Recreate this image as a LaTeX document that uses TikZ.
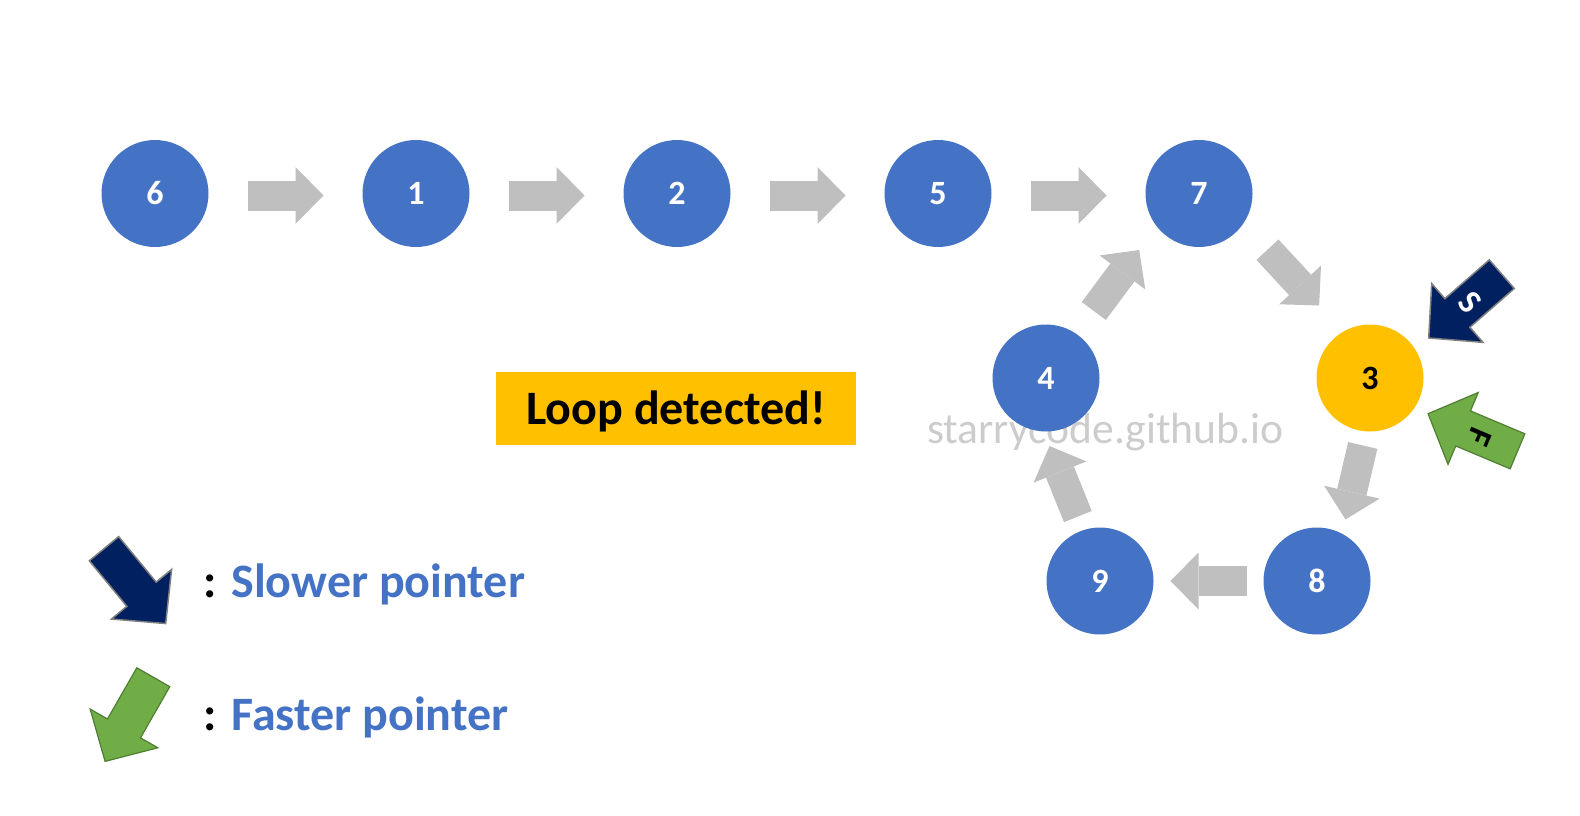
\documentclass[tikz,border=0pt]{standalone}
\usepackage{fontspec}
\setmainfont{Carlito}
\usetikzlibrary{arrows.meta,calc}

\definecolor{nodeblue}{HTML}{4472C4}
\definecolor{loopyellow}{HTML}{FFC000}
\definecolor{linkgray}{HTML}{BFBFBF}
\definecolor{slownavy}{HTML}{002060}
\definecolor{fastgreen}{HTML}{70AD47}
\definecolor{fastedge}{HTML}{507E32}

\tikzset{
  cnode/.style={circle,fill=nodeblue,minimum size=107pt,inner sep=0pt,text=white,
    font=\fontsize{34}{34}\selectfont\bfseries},
  link/.style={linkgray,line width=30pt,-{Triangle[length=28pt,width=57pt,line width=0pt]}},
  slowptr/.style={fill=slownavy,draw=gray,line width=1.5pt},
  fastptr/.style={fill=fastgreen,draw=fastedge,line width=1.2pt},
  ptrlabel/.style={inner sep=0pt,font=\fontsize{34}{34}\selectfont\bfseries},
  legend/.style={anchor=base west,inner sep=0pt,font=\fontsize{48}{48}\selectfont\bfseries}
}

\begin{document}
\begin{tikzpicture}[x=1pt,y=-1pt]
\useasboundingbox (0,0) rectangle (1580,816);

\node[anchor=base west,inner sep=0pt,text=gray!40,font=\fontsize{43.6}{43.6}\selectfont] (mark) at (927,443) {starrycode.github.io};

% list
\node[cnode] (n6) at (155,193.5) {6};
\node[cnode] (n1) at (416,193.5) {1};
\node[cnode] (n2) at (677,193.5) {2};
\node[cnode] (n5) at (938,193.5) {5};
\node[cnode] (n7) at (1199,193.5) {7};
\node[cnode] (n4) at (1046,378) {4};
\node[cnode,fill=loopyellow,text=black] (n3) at (1370,378) {3};
\node[cnode] (n9) at (1100,581) {9};
\node[cnode] (n8) at (1317,581) {8};

\foreach \a/\b/\ofs/\rot in {n6/n1/-2/0,n1/n2/-2/0,n2/n5/-2/0,n5/n7/-2/0,n7/n3/12/0,n3/n8/11/1.5,n8/n9/0/0,n9/n4/9.5/7,n4/n7/8/3}{
  \draw[link] ($(\a)!0.5!(\b)!38pt!\rot:(\a)!\ofs pt!-90:(\a)$) -- ($(\a)!0.5!(\b)!38pt!\rot:(\b)!\ofs pt!90:(\b)$);
}

% pointers
\foreach \x/\y/\ang/\sty in {1501.8/274.2/221.1/slowptr,1517.5/451.3/157.2/fastptr,104/548.7/-50.5/slowptr,153.3/677.2/240.2/fastptr}{
  \draw[\sty,shift={(\x,\y)},rotate=\ang] (0,19) -- (59,19) -- (59,39) -- (97,0) -- (59,-39) -- (59,-19) -- (0,-19) -- cycle;
}
\node[ptrlabel,text=white,rotate=311] (slbl) at (1470,302) {S};
\node[ptrlabel,rotate=247] (flbl) at (1480,437) {F};

\node[fill=loopyellow,minimum width=360pt,minimum height=73pt,text height=36pt,text depth=4.4pt,
  font=\fontsize{48}{48}\selectfont\bfseries] (loopbox) at (676,408.5) {Loop detected!};

% legend
\node[legend] (slowtxt) at (203.5,597) {: \textcolor{nodeblue}{Slower pointer}};
\node[legend] (fasttxt) at (203.5,730) {: \textcolor{nodeblue}{Faster pointer}};
\end{tikzpicture}
\end{document}
